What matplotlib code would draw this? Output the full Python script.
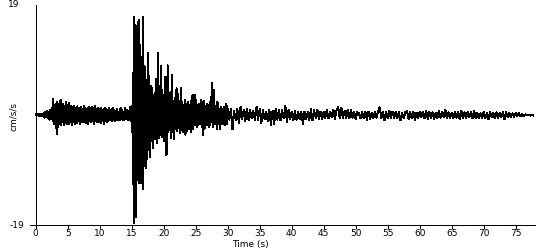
"""
Acceleration record, plotted as a plain seismogram trace
"""

import matplotlib
matplotlib.use("Agg")
import matplotlib.pyplot as plt
import numpy as np

# peak values (cm/s/s), three parts with their own time step
DT_PRE, T0_PRE = 0.125, 0.0
ACC_PRE = [
    0.1, -0.1, 0.1, -0.1, 0.2, -0.1, 0.2, -0.2, 0.2, -0.2,
    0.4, -0.5, 0.6, -0.4, 0.7, -0.6, 0.5, -0.8, 0.9, -0.7,
    1.2, -1.0, 2.8, -1.5, 1.8, -2.2, 2.3, -3.3, 2.0, -1.6,
    2.4, -1.8, 2.6, -1.2, 2.0, -1.7, 1.6, -1.4, 2.2, -1.5,
    1.8, -1.6, 2.1, -1.3, 1.5, -1.7, 1.4, -1.2, 1.6, -1.5,
    1.3, -1.4, 1.5, -1.1, 1.2, -1.6, 1.4, -1.2, 1.1, -1.3,
    1.5, -1.2, 1.3, -1.4, 1.0, -1.5, 1.4, -1.1, 1.2, -1.3,
    1.4, -1.1, 1.2, -1.6, 1.5, -1.0, 1.1, -1.3, 1.3, -1.2,
    1.0, -1.4, 1.3, -1.1, 0.9, -1.6, 1.2, -1.0, 1.1, -1.2,
    0.9, -1.0, 1.2, -0.9, 0.8, -1.1, 1.3, -0.8, 0.9, -1.0,
    0.7, -0.9, 1.0, -0.8, 0.6, -0.9, 1.2, -0.7, 0.8, -0.9,
    0.6, -0.8, 1.3, -0.7, 0.9, -0.8, 0.7, -0.9, 1.4, -1.0,
]

DT_STRONG, T0_STRONG = 0.1, 15.0
ACC_STRONG = [
    1.5, -3.0, 7.2, -18.7, 16.9, -17.0, 15.5, -17.6, 14.0, -11.2,
    16.1, -11.8, 16.4, -8.9, 7.8, -11.8, 10.0, -12.8, 17.0, -6.6,
    8.4, -8.9, 6.0, -9.2, 5.5, -5.0, 10.7, -6.0, 4.6, -7.2,
    5.0, -4.5, 4.6, -5.7, 3.5, -4.0, 3.8, -4.2, 6.2, -3.5,
    -4.8, 10.7, -4.0, 5.0, -3.5, 3.0, 8.4, -3.8, 4.4, -3.2,
    3.5, -4.5, 6.6, -6.9, 3.2, -6.8, 8.6, -3.0, 3.8, -2.6,
    2.8, -4.0, 3.6, 6.9, -3.0, 2.5, -4.1, 3.0, -2.4, 2.0,
    4.6, -2.8, 3.7, -2.2, 2.5, -3.2, 2.0, 4.6, -2.6, 2.2,
    -3.0, 1.8, -2.5, 2.6, -3.4, 1.5, -2.8, 2.0, 2.3, -2.4,
    1.8, -2.2, 2.5, -3.0, 2.0, 3.5, -2.5, 1.9, -1.8, 3.4,
    -1.7, 2.6, -2.0, 1.8, -1.7, 2.0, -1.5, 1.6, -1.6, 2.6,
    -2.0, 1.5, -3.5, 2.5, -2.3, 1.5, -1.8, -1.7, 2.0, -1.5,
    1.8, -2.0, 2.3, -1.8, 2.0, 4.0, 5.5, -2.0, 4.3, -1.6,
    1.6, -1.5, 0.8, -2.5, 2.3, -1.2, 1.0, -1.6, -2.5, 1.4,
    1.2, -1.5, 1.0, -1.2, 1.4, -1.8, 1.0, -1.3, 2.0, -1.6,
]

DT_CODA, T0_CODA = 0.25, 30.0
ACC_CODA = [
    1.0, -0.8, 1.1, -2.5, 0.7, -0.9, 1.0, -1.4,
    1.4, -0.7, 0.9, -1.0, 1.1, -0.9, 0.8, -0.6,
    0.7, -0.9, 1.4, -0.8, 1.1, -1.4, 0.8, -0.7,
    0.6, -1.0, 0.9, -1.7, 0.7, -1.6, 1.1, -0.8,
    0.9, -0.9, 0.8, -0.6, 1.6, -1.3, 0.9, -0.7,
    0.6, -0.9, 0.7, -0.8, 0.5, -0.7, 0.6, -1.5,
    0.6, -0.7, 0.5, -0.9, 1.0, -0.9, 0.8, -0.5,
    0.9, -0.7, 0.6, -0.7, 0.6, -0.5, 0.9, -0.6,
    0.6, -0.4, 0.9, -0.7, 0.8, 1.4, -0.6, 1.3,
    -0.5, 0.7, -0.6, 0.9, -0.6, 0.9, -0.5, 0.6,
    -0.7, 0.5, 0.3, -0.6, 0.5, -0.5, 0.6, -0.9,
    0.6, -0.7, 0.4, -0.6, 0.5, -0.5, 0.7, 1.3,
    -0.6, 0.6, -0.9, 0.5, -0.6, 0.7, -0.5, 0.6,
    -0.6, 0.6, -0.5, 0.5, -0.9, 0.4, -0.6, 0.5,
    0.7, -0.7, 0.5, -0.6, 0.6, -0.9, 0.4, -0.5,
    0.5, -0.4, 0.6, -0.6, 0.7, -0.7, 0.5, -0.5,
    0.5, -0.7, 0.4, -0.5, 0.7, -0.5, 0.6, -0.4,
    0.9, -0.6, 0.5, -0.5, 0.4, -0.6, 0.6, -0.5,
    0.5, -0.7, 0.7, -0.6, 0.5, -0.5, 0.6, -0.4,
    0.5, -0.6, 0.7, -0.5, 0.4, -0.6, 0.3, -0.5,
    0.5, -0.6, 0.4, -0.7, 0.5, -0.4, 0.4, -0.6,
    0.5, -0.5, 0.4, -0.4, 0.5, -0.7, 0.5, -0.4,
    0.3, -0.4, 0.3, -0.3, 0.4, -0.2, 0.3, -0.2,
    0.2, -0.2, 0.1, -0.1, 0.1, -0.1, 0.0, -0.1,
]

YMAX = 19
XTICKS = list(range(0, 80, 5))

AX_L, AX_B, AX_W, AX_H = 30.3, 22.1, 504.6, 222.9  # figure pixels
FS = 6.5


def main():
    t = np.concatenate([
        T0_PRE + DT_PRE * np.arange(len(ACC_PRE)),
        T0_STRONG + DT_STRONG * np.arange(len(ACC_STRONG)),
        T0_CODA + DT_CODA * np.arange(len(ACC_CODA)),
    ])
    acc = np.array(ACC_PRE + ACC_STRONG + ACC_CODA)

    plt.rcParams["font.family"] = "DejaVu Sans"
    fig = plt.figure(figsize=(5.5, 2.5), dpi=100)
    ax = fig.add_axes([AX_L / 550, AX_B / 250, AX_W / 550, AX_H / 250])

    ax.plot(t, acc, color="black", lw=0.7, antialiased=False)

    ax.set_xlim(-0.85, 78)
    ax.set_ylim(-YMAX - 0.5, YMAX)
    ax.spines["left"].set_position(("data", 0))
    ax.spines["bottom"].set_position(("data", -YMAX))
    ax.spines["top"].set_visible(False)
    ax.spines["right"].set_visible(False)
    for s in ("left", "bottom"):
        ax.spines[s].set_linewidth(0.7)
        ax.spines[s].set_antialiased(False)

    ax.set_xticks(XTICKS)
    ax.tick_params(axis="x", direction="out", length=3, width=0.7, pad=0,
                   labelsize=FS)
    ax.set_yticks([])

    # the two y limits are written at the left edge
    for val in (YMAX, -YMAX):
        ax.annotate(f"{val}", xy=(0, val), xycoords=("figure pixels", "data"),
                    xytext=(8 if val > 0 else 10, 0), textcoords="offset pixels",
                    ha="left", va="center", fontsize=FS)

    ax.set_ylabel("cm/s/s", fontsize=FS)
    ax.yaxis.label.set_va("center")
    ax.yaxis.set_label_coords(-(AX_L - 13) / AX_W, 0.5)
    ax.set_xlabel("Time (s)", fontsize=FS)
    ax.xaxis.label.set_va("center")
    ax.xaxis.set_label_coords((250 - AX_L) / AX_W, -(244.5 - 227.9) / AX_H)

    fig.savefig("out.png", dpi=100)


if __name__ == "__main__":
    main()
